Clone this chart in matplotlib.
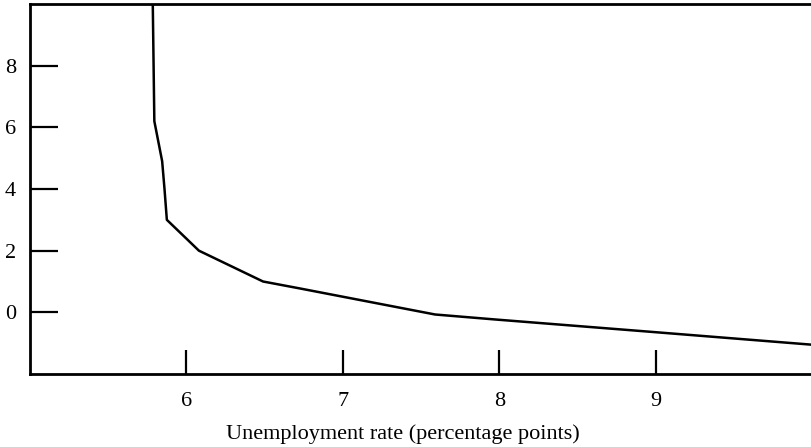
import matplotlib
matplotlib.use("Agg")
import matplotlib.pyplot as plt

# curve
unemployment = [5.785, 5.795, 5.845, 5.86, 5.875, 6.08, 6.49, 6.72, 7.59, 7.97, 8.94, 10.0]
inflation = [10.0, 6.2, 4.9, 4.0, 3.0, 2.0, 1.0, 0.78, -0.07, -0.23, -0.62, -1.05]
x_ticks = [6, 7, 8, 9]
y_ticks = [0, 2, 4, 6, 8]

plt.rcParams['font.family'] = ['Liberation Serif', 'DejaVu Serif']

fig = plt.figure(figsize=(8.12, 4.47), dpi=100)
ax = fig.add_axes([30 / 812, 73 / 447, 782 / 812, 370 / 447])

ax.plot(unemployment, inflation, color='black', linewidth=1.8)

ax.set_xlim(5, 10)
ax.set_ylim(-2, 10)
ax.set_xticks(x_ticks)
ax.set_yticks(y_ticks)

ax.spines['right'].set_visible(False)
for side in ['left', 'top', 'bottom']:
    ax.spines[side].set_linewidth(2)

ax.tick_params(axis='y', direction='in', length=20, width=1.6, pad=10, labelsize=16)
ax.tick_params(axis='x', direction='in', length=17, width=1.6, pad=13, labelsize=16)

ax.set_xlabel('Unemployment rate (percentage points)', fontsize=16)
ax.xaxis.set_label_coords(0.477, -0.135)

fig.savefig('out.png', dpi=100)
